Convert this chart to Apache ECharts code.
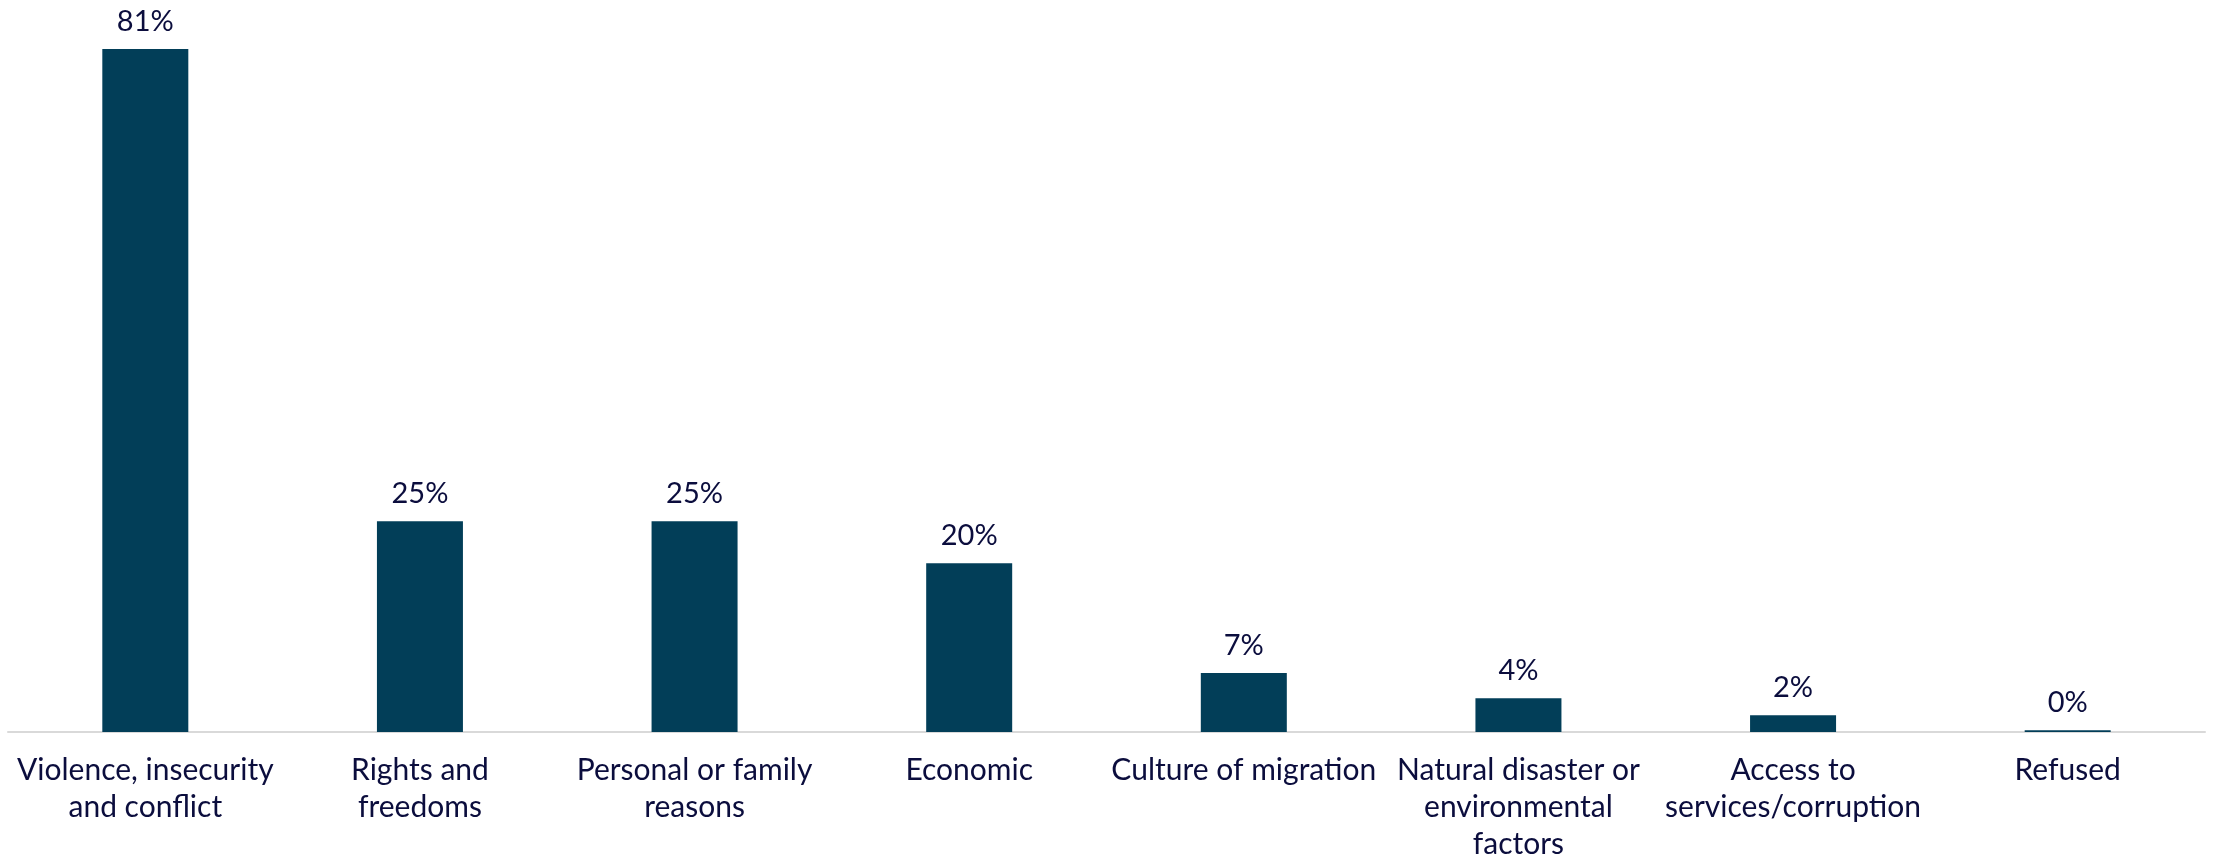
<!DOCTYPE html>
<html>
<head>
<meta charset="utf-8">
<script src="https://cdn.jsdelivr.net/npm/echarts@6/dist/echarts.min.js"></script>
<style>html,body{margin:0;padding:0;background:#fff;}#c{width:2213px;height:862px;}</style>
</head>
<body>
<div id="c"></div>
<script>
const categories = [
  "Violence, insecurity\nand conflict",
  "Rights and\nfreedoms",
  "Personal or family\nreasons",
  "Economic",
  "Culture of migration",
  "Natural disaster or\nenvironmental\nfactors",
  "Access to\nservices/corruption",
  "Refused"
];
const values = [81, 25, 25, 20, 7, 4, 2, 0.2];

const chart = echarts.init(document.getElementById('c'));
chart.setOption({
  animation: false,
  grid: { left: 8, right: 8, top: 49, bottom: 130, containLabel: false, outerBoundsMode: 'none' },
  xAxis: {
    type: 'category',
    data: categories,
    axisLine: { show: true, lineStyle: { color: '#d9d9d9', width: 2 } },
    axisTick: { show: false },
    axisLabel: {
      interval: 0,
      color: '#0b0d3d',
      fontFamily: 'Lato',
      fontSize: 30,
      lineHeight: 37,
      margin: 20
    }
  },
  yAxis: {
    type: 'value',
    min: 0,
    max: 81,
    show: false,
    splitLine: { show: false }
  },
  series: [{
    type: 'bar',
    data: values,
    barWidth: 86,
    itemStyle: { color: '#023e58' },
    label: {
      show: true,
      position: 'top',
      distance: 13,
      color: '#0b0d3d',
      fontFamily: 'Lato',
      fontSize: 29,
      formatter: p => Math.round(p.value) + '%'
    }
  }]
});
</script>
</body>
</html>
